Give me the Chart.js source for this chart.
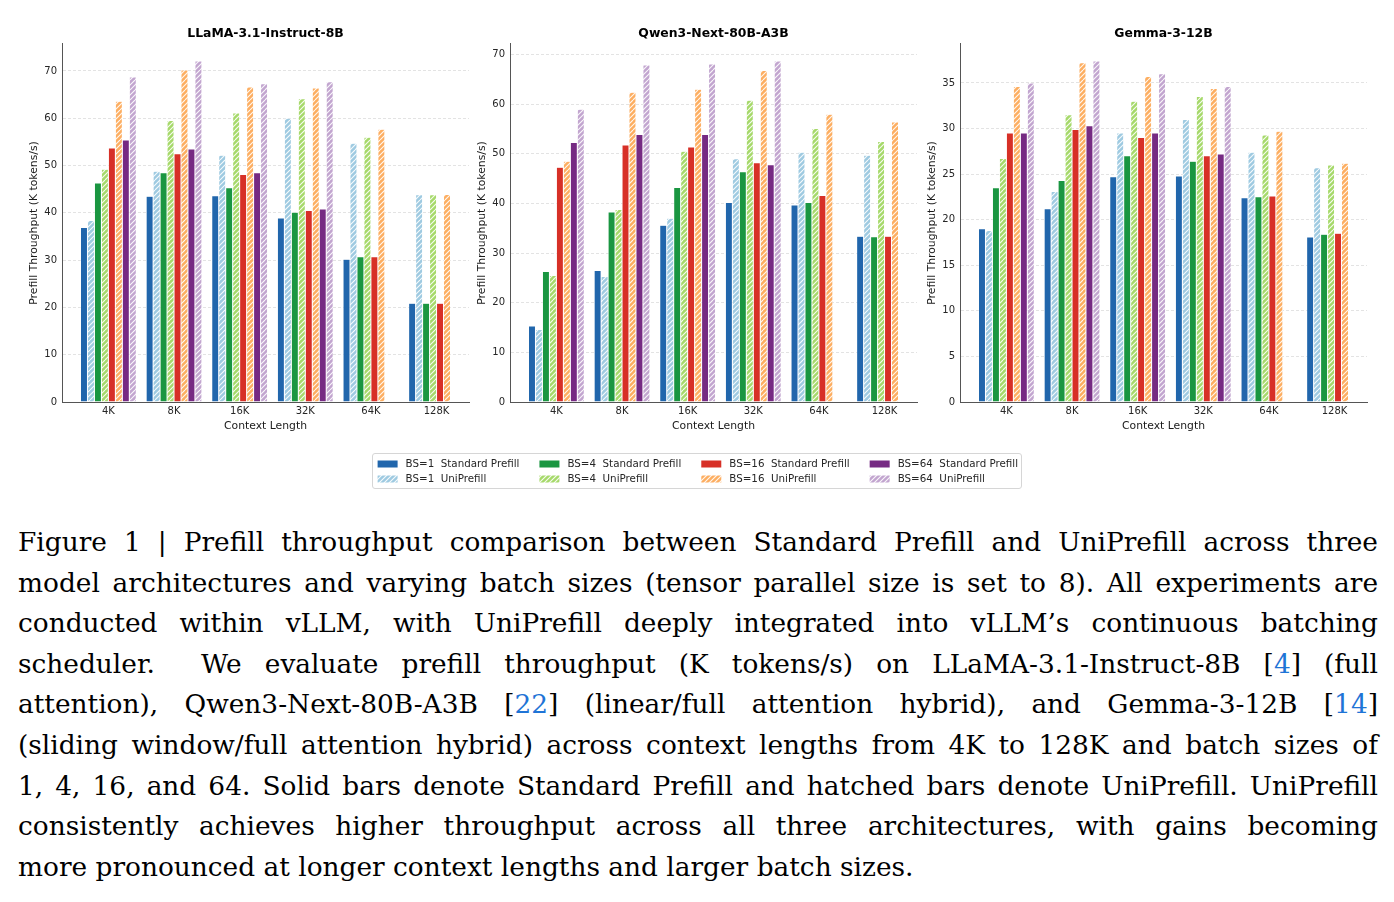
<!DOCTYPE html>
<html lang="en">
<head>
<meta charset="UTF-8">
<title>Prefill Throughput: Standard Prefill vs UniPrefill</title>
<script src="https://cdn.jsdelivr.net/npm/chart.js@4"></script>
<style>
  body { margin: 0; background: #fff; width: 1394px; height: 902px; position: relative; overflow: hidden; }
  .panel { position: absolute; top: 0; }
  #legendBox { position: absolute; left: 372px; top: 453px; width: 650px; height: 36px;
               border: 1px solid #d6d6d6; border-radius: 3px; box-sizing: border-box; }
  #legendBox canvas { position: absolute; left: 0; top: 0; }
  .caption { position: absolute; left: 18px; top: 522px; width: 1360px;
             font-family: 'DejaVu Serif', serif; font-size: 26.4px; line-height: 40.6px; color: #000; }
  .caption div { text-align: justify; text-align-last: justify; }
  .caption div.last { text-align-last: left; }
  .ref { color: #1f74d6; }
</style>
</head>
<body>
<canvas id="llamaChart" class="panel" style="left:0px" width="472" height="438"></canvas>
<canvas id="qwenChart" class="panel" style="left:448px" width="472" height="438"></canvas>
<canvas id="gemmaChart" class="panel" style="left:898px" width="472" height="438"></canvas>
<div id="legendBox"><canvas id="legendChart" width="648" height="34"></canvas></div>

<div class="caption">
<div>Figure 1 | Prefill throughput comparison between Standard Prefill and UniPrefill across three</div>
<div>model architectures and varying batch sizes (tensor parallel size is set to 8). All experiments are</div>
<div>conducted within vLLM, with UniPrefill deeply integrated into vLLM’s continuous batching</div>
<div>scheduler.&nbsp; We evaluate prefill throughput (K tokens/s) on LLaMA-3.1-Instruct-8B [<span class="ref">4</span>] (full</div>
<div>attention), Qwen3-Next-80B-A3B [<span class="ref">22</span>] (linear/full attention hybrid), and Gemma-3-12B [<span class="ref">14</span>]</div>
<div>(sliding window/full attention hybrid) across context lengths from 4K to 128K and batch sizes of</div>
<div>1, 4, 16, and 64. Solid bars denote Standard Prefill and hatched bars denote UniPrefill. UniPrefill</div>
<div>consistently achieves higher throughput across all three architectures, with gains becoming</div>
<div class="last">more pronounced at longer context lengths and larger batch sizes.</div>
</div>

<script>
// ---- data ----
const contextLengths = ['4K', '8K', '16K', '32K', '64K', '128K'];
const seriesNames = [
  'BS=1  Standard Prefill', 'BS=1  UniPrefill',
  'BS=4  Standard Prefill', 'BS=4  UniPrefill',
  'BS=16  Standard Prefill', 'BS=16  UniPrefill',
  'BS=64  Standard Prefill', 'BS=64  UniPrefill'
];

// LLaMA-3.1-Instruct-8B (K tokens/s)
const llamaStd1  = [36.9, 43.5, 43.6, 38.9, 30.2, 20.9];
const llamaUni1  = [38.4, 48.8, 52.2, 60.0, 54.7, 43.8];
const llamaStd4  = [46.3, 48.5, 45.3, 40.1, 30.7, 20.9];
const llamaUni4  = [49.2, 59.5, 61.1, 64.1, 56.0, 43.8];
const llamaStd16 = [53.7, 52.5, 48.1, 40.5, 30.7, 20.9];
const llamaUni16 = [63.6, 70.2, 66.6, 66.4, 57.7, 43.9];
const llamaStd64 = [55.4, 53.5, 48.5, 40.8, null, null];
const llamaUni64 = [68.7, 72.1, 67.3, 67.7, null, null];

// Qwen3-Next-80B-A3B
const qwenStd1  = [15.3, 26.5, 35.6, 40.2, 39.7, 33.4];
const qwenUni1  = [14.6, 25.3, 37.0, 49.0, 50.3, 49.7];
const qwenStd4  = [26.3, 38.3, 43.2, 46.4, 40.2, 33.3];
const qwenUni4  = [25.5, 38.8, 50.5, 60.8, 55.1, 52.5];
const qwenStd16 = [47.3, 51.8, 51.4, 48.2, 41.6, 33.4];
const qwenUni16 = [48.5, 62.4, 63.0, 66.8, 58.0, 56.4];
const qwenStd64 = [52.3, 53.9, 53.9, 47.8, null, null];
const qwenUni64 = [59.0, 67.9, 68.1, 68.7, null, null];

// Gemma-3-12B
const gemmaStd1  = [19.0, 21.2, 24.7, 24.8, 22.4, 18.1];
const gemmaUni1  = [18.8, 23.1, 29.5, 31.0, 27.4, 25.7];
const gemmaStd4  = [23.5, 24.3, 27.0, 26.4, 22.5, 18.4];
const gemmaUni4  = [26.7, 31.5, 33.0, 33.5, 29.3, 26.0];
const gemmaStd16 = [29.5, 29.9, 29.0, 27.0, 22.6, 18.5];
const gemmaUni16 = [34.6, 37.2, 35.7, 34.4, 29.7, 26.2];
const gemmaStd64 = [29.5, 30.3, 29.5, 27.2, null, null];
const gemmaUni64 = [35.0, 37.4, 36.0, 34.6, null, null];

// ---- styling ----
const seriesColors = ['#2166ac', '#9ecae1', '#1a9641', '#a6d96a', '#d73027', '#fdae61', '#762a83', '#c2a5cf'];
const groupWidth = 0.85;   // fraction of a category filled by the 8 bars
const FONT = "'DejaVu Sans', sans-serif";

Chart.defaults.font.family = FONT;
Chart.defaults.color = '#262626';

// diagonal white hatch like matplotlib '//'
function hatch(color) {
  const tile = document.createElement('canvas');
  tile.width = tile.height = 10;
  const g = tile.getContext('2d');
  g.fillStyle = color;
  g.fillRect(0, 0, 10, 10);
  g.strokeStyle = 'rgba(255,255,255,0.9)';
  g.lineWidth = 1.1;
  g.beginPath();
  for (let c = 0; c <= 20; c += 5) { g.moveTo(c, 0); g.lineTo(c - 10, 10); }
  g.stroke();
  return g.createPattern(tile, 'repeat');
}
const seriesFills = seriesColors.map((c, i) => i % 2 ? hatch(c) : c);

// category axis with matplotlib-like data margins on both sides
class PaddedCategoryScale extends Chart.CategoryScale {
  configure() {
    super.configure();
    const lo = this.options.padStart ?? 0.5;
    const hi = this.options.padEnd ?? 0.5;
    this._startValue = this.min - lo;
    this._valueRange = (this.max - this.min) + lo + hi;
  }
}
PaddedCategoryScale.id = 'paddedCategory';
PaddedCategoryScale.defaults = Chart.CategoryScale.defaults;
Chart.register(PaddedCategoryScale);

function buildChart(canvasId, title, series, step) {
  const datasets = series.map((values, i) => ({
    label: seriesNames[i],
    data: values,
    backgroundColor: seriesFills[i],
    borderColor: '#ffffff',
    borderWidth: 0.5,
    categoryPercentage: groupWidth,
    barPercentage: 1
  }));

  const peak = Math.max(...series.flat().filter(v => v !== null));
  // x margins: 5% of the bar extent, as matplotlib autoscale does
  const last = contextLengths.length - 1;
  const slot = groupWidth / series.length;
  let lastSlot = 0;
  series.forEach((s, i) => { if (s[last] !== null) lastSlot = i; });
  const leftEdge = groupWidth / 2;
  const rightEdge = (lastSlot - (series.length - 1) / 2) * slot + slot / 2;
  const margin = 0.05 * (last + leftEdge + rightEdge);

  return new Chart(document.getElementById(canvasId), {
    type: 'bar',
    data: { labels: contextLengths, datasets },
    options: {
      responsive: false,
      animation: false,
      devicePixelRatio: 1,
      layout: { padding: { left: 0, right: 3, top: 0, bottom: 0 } },
      scales: {
        x: {
          type: 'paddedCategory',
          offset: false,
          padStart: leftEdge + margin,
          padEnd: rightEdge + margin,
          grid: { display: false, drawTicks: false },
          border: { color: '#555555', width: 1 },
          ticks: { font: { size: 10 }, color: '#262626', padding: 3, maxRotation: 0 },
          title: { display: true, text: 'Context Length', color: '#1a1a1a',
                   font: { size: 10.8 }, padding: { top: 0, bottom: 5 } },
          afterFit(scale) { scale.height = 36; }
        },
        y: {
          min: 0,
          max: peak * 1.05,
          grid: { color: 'rgba(0,0,0,0.14)', lineWidth: 0.8, drawTicks: false },
          border: { color: '#555555', width: 1, dash: [3, 2] },
          ticks: { stepSize: step, includeBounds: false, font: { size: 10 }, color: '#262626', padding: 5 },
          title: { display: true, text: 'Prefill Throughput (K tokens/s)', color: '#1a1a1a',
                   font: { size: 10.8 }, padding: { top: 28, bottom: 0 } },
          afterFit(scale) { scale.width = 62; }
        }
      },
      plugins: {
        legend: { display: false },
        tooltip: { enabled: false },
        title: {
          display: true,
          text: title,
          fullSize: false,
          color: '#000000',
          font: { size: 12.4, weight: 'bold' },
          padding: { top: 26.4, bottom: 2.7 }
        }
      }
    }
  });
}

buildChart('llamaChart', 'LLaMA-3.1-Instruct-8B',
  [llamaStd1, llamaUni1, llamaStd4, llamaUni4, llamaStd16, llamaUni16, llamaStd64, llamaUni64], 10);
buildChart('qwenChart', 'Qwen3-Next-80B-A3B',
  [qwenStd1, qwenUni1, qwenStd4, qwenUni4, qwenStd16, qwenUni16, qwenStd64, qwenUni64], 10);
buildChart('gemmaChart', 'Gemma-3-12B',
  [gemmaStd1, gemmaUni1, gemmaStd4, gemmaUni4, gemmaStd16, gemmaUni16, gemmaStd64, gemmaUni64], 5);

// shared legend: 4 columns x 2 rows, filled column by column
const gridLegend = {
  id: 'gridLegend',
  afterDraw(chart, args, opts) {
    const ctx = chart.ctx;
    const sets = chart.data.datasets;
    ctx.save();
    ctx.font = opts.font;
    ctx.textBaseline = 'middle';
    let x = opts.left;
    for (let col = 0; col * opts.rows < sets.length; col++) {
      let textW = 0;
      for (let row = 0; row < opts.rows; row++) {
        const ds = sets[col * opts.rows + row];
        if (!ds) continue;
        const y = opts.top + row * opts.rowGap;
        ctx.fillStyle = ds.backgroundColor;
        ctx.fillRect(x, y - opts.boxH / 2, opts.boxW, opts.boxH);
        ctx.fillStyle = opts.color;
        ctx.fillText(ds.label, x + opts.boxW + opts.textGap, y);
        textW = Math.max(textW, ctx.measureText(ds.label).width);
      }
      x += opts.boxW + opts.textGap + textW + opts.colGap;
    }
    ctx.restore();
  }
};

new Chart(document.getElementById('legendChart'), {
  type: 'bar',
  data: {
    labels: [],
    datasets: seriesNames.map((name, i) => ({ label: name, data: [], backgroundColor: seriesFills[i] }))
  },
  options: {
    responsive: false,
    animation: false,
    devicePixelRatio: 1,
    scales: { x: { display: false }, y: { display: false } },
    plugins: {
      legend: { display: false },
      tooltip: { enabled: false },
      gridLegend: {
        font: "10.3px 'DejaVu Sans', sans-serif",
        color: '#262626',
        left: 4.6, top: 10, rows: 2, rowGap: 15,
        boxW: 20, boxH: 7, textGap: 8, colGap: 20
      }
    }
  },
  plugins: [gridLegend]
});
</script>
</body>
</html>
